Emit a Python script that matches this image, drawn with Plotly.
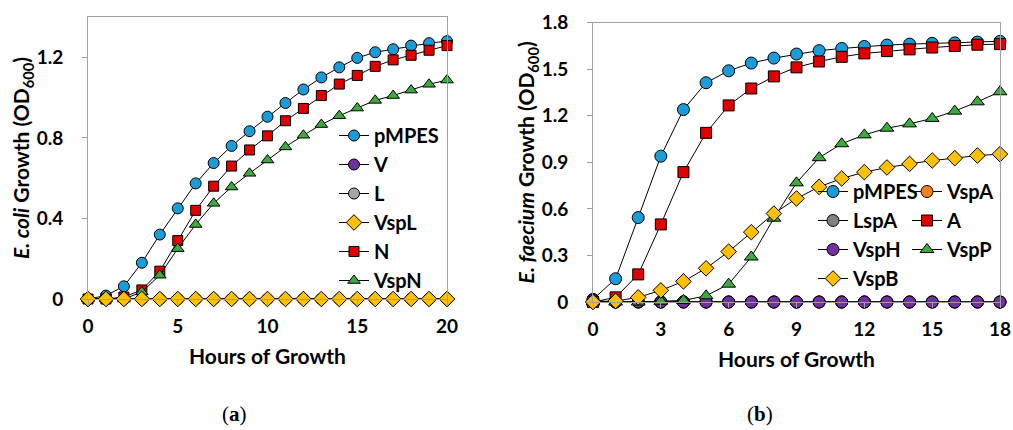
import plotly.graph_objects as go

W, H = 1013, 430

# ---------------- Data: panel (a) E. coli ----------------
hours_a = list(range(0, 21))
ec_pMPES = [0, 0.017, 0.063, 0.18, 0.32, 0.45, 0.574, 0.675, 0.76, 0.833, 0.905,
            0.973, 1.04, 1.10, 1.15, 1.197, 1.225, 1.24, 1.258, 1.27, 1.28]
ec_V = [0] * 21
ec_L = [0] * 21
ec_VspL = [0] * 21
ec_N = [0, 0, 0.01, 0.045, 0.138, 0.29, 0.44, 0.56, 0.66, 0.74, 0.81,
        0.885, 0.946, 1.01, 1.067, 1.11, 1.155, 1.187, 1.21, 1.235, 1.258]
ec_VspN = [0, 0, 0, 0.035, 0.118, 0.25, 0.37, 0.475, 0.556, 0.624, 0.69,
           0.755, 0.813, 0.866, 0.91, 0.948, 0.986, 1.01, 1.037, 1.066, 1.087]

# ---------------- Data: panel (b) E. faecium ----------------
hours_b = list(range(0, 19))
ef_pMPES = [0.017, 0.15, 0.544, 0.94, 1.24, 1.413, 1.49, 1.54, 1.572, 1.598,
            1.62, 1.634, 1.647, 1.656, 1.662, 1.667, 1.67, 1.675, 1.68]
ef_VspA = [0] * 19
ef_LspA = [0] * 19
ef_A = [0, 0.03, 0.178, 0.5, 0.837, 1.09, 1.267, 1.376, 1.454, 1.512,
        1.55, 1.58, 1.602, 1.617, 1.628, 1.64, 1.65, 1.658, 1.662]
ef_VspH = [0.01] + [0] * 18
ef_VspP = [0, 0, 0, 0.005, 0.01, 0.04, 0.115, 0.29, 0.54, 0.768,
           0.93, 1.02, 1.077, 1.12, 1.148, 1.183, 1.23, 1.29, 1.355]
ef_VspB = [0, 0.006, 0.03, 0.075, 0.133, 0.217, 0.325, 0.45, 0.57, 0.667,
           0.742, 0.796, 0.837, 0.867, 0.89, 0.912, 0.927, 0.944, 0.953]

ticks_a_y = [0, 0.4, 0.8, 1.2]
ticks_a_x = [0, 5, 10, 15, 20]
ticks_b_y = [0, 0.3, 0.6, 0.9, 1.2, 1.5, 1.8]
ticks_b_x = [0, 3, 6, 9, 12, 15, 18]

BLUE = "#1B9BD7"
PURPLE = "#7030A0"
GRAY_L = "#A6A6A6"
GRAY_D = "#808080"
YELLOW = "#FFC000"
RED = "#E00000"
GREEN = "#3CAA3C"
ORANGE = "#F58220"

FONT = "Lato"

fig = go.Figure()


def add(x, y, name, color, symbol, size, xa, ya, legend, rank):
    fig.add_trace(go.Scatter(
        x=x, y=y, name=name, mode="lines+markers",
        line=dict(color="black", width=1),
        marker=dict(color=color, symbol=symbol, size=size,
                    line=dict(color="black", width=1)),
        xaxis=xa, yaxis=ya, legend=legend, legendrank=rank,
        cliponaxis=False,
    ))


# Panel (a) – drawing order so that VspL is on top
add(hours_a, ec_pMPES, "pMPES", BLUE, "circle", 11, "x", "y", "legend", 1)
add(hours_a, ec_V, "V", PURPLE, "circle", 11, "x", "y", "legend", 2)
add(hours_a, ec_L, "L", GRAY_L, "circle", 11, "x", "y", "legend", 3)
add(hours_a, ec_N, "N", RED, "square", 10, "x", "y", "legend", 5)
add(hours_a, ec_VspN, "VspN", GREEN, "triangle-up", 11, "x", "y", "legend", 6)
add(hours_a, ec_VspL, "VspL", YELLOW, "diamond", 12, "x", "y", "legend", 4)

# Panel (b)
add(hours_b, ef_pMPES, "pMPES", BLUE, "circle", 12, "x2", "y2", "legend2", 1)
add(hours_b, ef_VspA, "VspA", ORANGE, "circle", 12, "x2", "y2", "legend3", 1)
add(hours_b, ef_LspA, "LspA", GRAY_D, "circle", 12, "x2", "y2", "legend2", 2)
add(hours_b, ef_VspH, "VspH", PURPLE, "circle", 12, "x2", "y2", "legend2", 3)
add(hours_b, ef_A, "A", RED, "square", 11, "x2", "y2", "legend3", 2)
add(hours_b, ef_VspP, "VspP", GREEN, "triangle-up", 12, "x2", "y2", "legend3", 3)
add(hours_b, ef_VspB, "VspB", YELLOW, "diamond", 12, "x2", "y2", "legend2", 4)

tickfont = dict(family=FONT, size=19, color="black", weight="bold")
titlefont = dict(family=FONT, size=21, color="black", weight="bold")
legfont = dict(family=FONT, size=20, color="black", weight="bold")


def px_x(p):
    return p / W


def px_y(p):
    return 1 - p / H


axis_common = dict(showline=True, linecolor="#A0A0A0", linewidth=1, mirror=True,
                   showgrid=False, zeroline=False, ticks="outside", ticklen=5,
                   tickcolor="#A0A0A0", tickfont=tickfont, automargin=False,
                   ticklabeloverflow="allow")

leg_common = dict(xanchor="left", yanchor="top", bgcolor="rgba(0,0,0,0)",
                  font=legfont, itemwidth=30, traceorder="normal")

fig.update_layout(
    template="none",
    width=W, height=H,
    margin=dict(l=0, r=0, t=0, b=0, autoexpand=False),
    paper_bgcolor="white", plot_bgcolor="white",
    xaxis=dict(domain=[px_x(88), px_x(447)], range=[0, 20], tickvals=ticks_a_x,
               anchor="y", ticklabelstandoff=5,
               title=dict(text="Hours of Growth", font=titlefont, standoff=13),
               **axis_common),
    yaxis=dict(domain=[px_y(299), px_y(17)], range=[0, 1.4], tickvals=ticks_a_y,
               anchor="x", ticklabelstandoff=15,
               title=dict(text="<i>E. coli</i> Growth (OD<sub>600</sub>)", font=titlefont, standoff=0),
               **axis_common),
    xaxis2=dict(domain=[px_x(593), px_x(1000)], range=[0, 18], tickvals=ticks_b_x,
                anchor="y2", ticklabelstandoff=5,
                title=dict(text="Hours of Growth", font=titlefont, standoff=13),
                **axis_common),
    yaxis2=dict(domain=[px_y(302), px_y(22.7)], range=[0, 1.8], tickvals=ticks_b_y,
                anchor="x2", ticklabelstandoff=15,
                title=dict(text="<i>E. faecium</i> Growth (OD<sub>600</sub>)", font=titlefont, standoff=0),
                **axis_common),
    legend=dict(x=px_x(334), y=px_y(116), **leg_common),
    legend2=dict(x=px_x(813), y=px_y(172), **leg_common),
    legend3=dict(x=px_x(907), y=px_y(172), **leg_common),
    annotations=[
        dict(text="(<b>a</b>)", x=px_x(234), y=px_y(414), xref="paper", yref="paper",
             xanchor="center", yanchor="middle", showarrow=False,
             font=dict(family="Liberation Serif", size=21, color="black")),
        dict(text="(<b>b</b>)", x=px_x(760), y=px_y(414), xref="paper", yref="paper",
             xanchor="center", yanchor="middle", showarrow=False,
             font=dict(family="Liberation Serif", size=21, color="black")),
    ],
)

fig.write_html("out.html", config={"displayModeBar": False},
               post_script="document.body.style.margin='0px';")
